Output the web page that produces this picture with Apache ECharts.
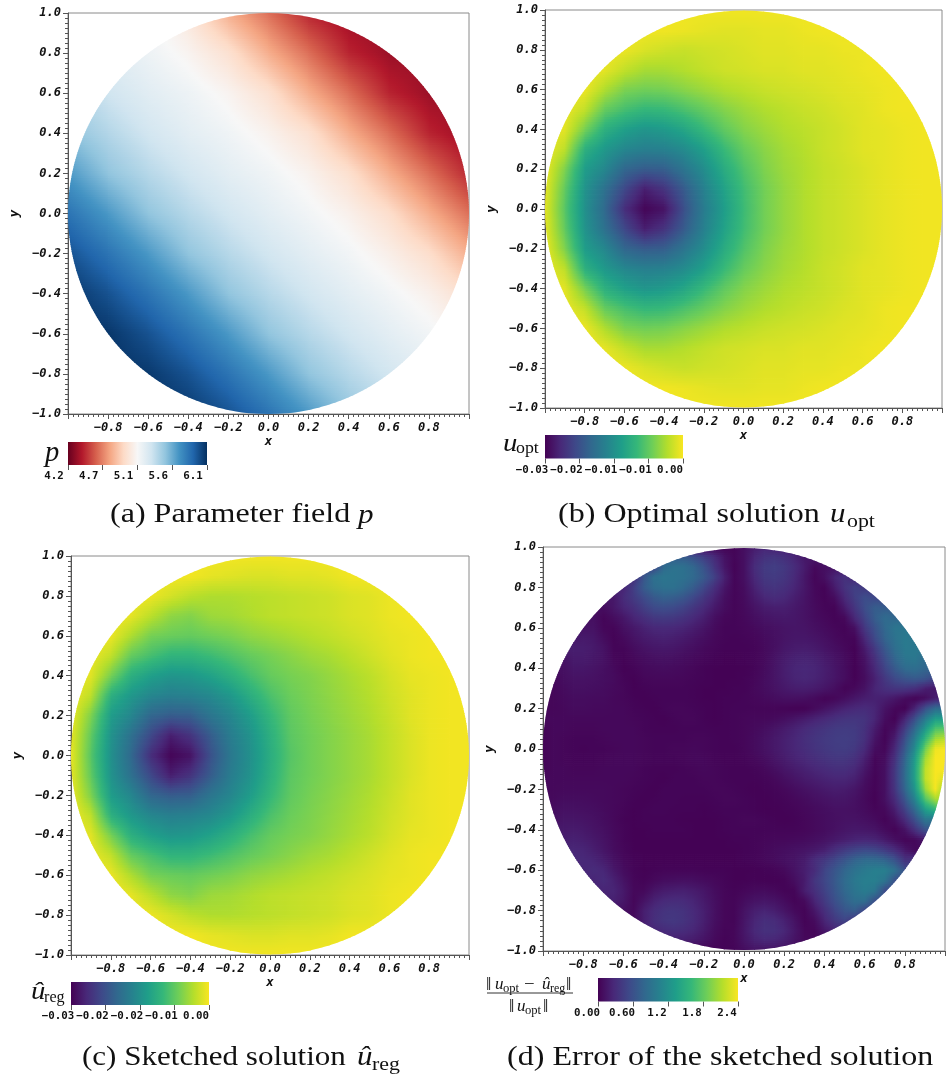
<!DOCTYPE html>
<html><head><meta charset="utf-8"><style>html,body{margin:0;padding:0;background:#fff}#c{width:948px;height:1078px}</style>
<script src="https://cdn.jsdelivr.net/npm/echarts@6/dist/echarts.min.js"></script></head><body><div id="c"></div><script>
// Node values. Rows run from y=1 down to y=-1, columns from x=-1 to x=1.
const pField = [
[5.3,5.25,5.18,5.03,4.8,4.62,4.42,4.33,4.32,4.32,4.32],
[5.36,5.27,5.2,5.12,5.0,4.8,4.62,4.42,4.33,4.32,4.32],
[5.44,5.34,5.26,5.2,5.12,5.0,4.8,4.62,4.42,4.33,4.32],
[5.54,5.43,5.33,5.25,5.19,5.11,5.0,4.8,4.62,4.42,4.33],
[5.7,5.53,5.42,5.33,5.25,5.19,5.11,4.99,4.8,4.62,4.43],
[5.85,5.7,5.53,5.42,5.33,5.25,5.18,5.1,4.98,4.8,4.62],
[5.98,5.85,5.7,5.53,5.42,5.33,5.25,5.18,5.09,4.98,4.8],
[6.08,5.98,5.85,5.7,5.53,5.42,5.33,5.25,5.18,5.1,4.98],
[6.1,6.08,5.98,5.85,5.7,5.53,5.42,5.33,5.25,5.18,5.1],
[6.1,6.1,6.07,5.98,5.85,5.7,5.53,5.42,5.33,5.25,5.18],
[6.1,6.1,6.1,6.07,5.98,5.85,5.7,5.53,5.42,5.33,5.25]];
// u_opt in units of 1e-3
const uOptField = [
[-.3,-.3,-.3,-.3,-.3,-.3,-.3,-.3,-.3,-.3,-.3,-.3,-.3,-.3,-.3,-.3,-.3,-.3,-.3,-.3,-.3],
[-.3,-.3,-.3,-.3,-.3,-.3,-.3,-.5,-.8,-1,-1,-.8,-.8,-.5,-.3,-.3,-.3,-.3,-.3,-.3,-.3],
[-.3,-.3,-.3,-.3,-.5,-1.3,-1.8,-2.1,-1.8,-1.6,-1.3,-1,-1,-.8,-.8,-.5,-.5,-.3,-.3,-.3,-.3],
[-.3,-.3,-.3,-.8,-2.3,-3.4,-3.4,-2.9,-2.3,-1.8,-1.6,-1.3,-1.3,-1,-1,-.8,-.5,-.3,-.3,-.3,-.3],
[-.3,-.3,-.5,-3.1,-5.2,-5.7,-5.5,-4.7,-3.9,-3.1,-2.6,-2.1,-1.8,-1.6,-1.3,-1,-.8,-.5,-.3,-.3,-.3],
[-.3,-.5,-2.3,-6.2,-7.8,-8.8,-8.6,-7.5,-6.2,-4.9,-3.9,-3.1,-2.6,-2.1,-1.8,-1.3,-1,-.5,-.3,-.3,-.3],
[-.3,-1,-5.5,-9.6,-11.4,-12.5,-12,-10.7,-8.6,-6.5,-4.9,-3.9,-3.1,-2.6,-2.1,-1.6,-1,-.8,-.5,-.3,-.3],
[-.3,-2.6,-9.6,-12.2,-14,-14.8,-14.6,-13.5,-11.4,-8.6,-6.2,-4.7,-3.6,-2.9,-2.1,-1.6,-1,-.8,-.5,-.3,-.3],
[-.5,-5.2,-11.7,-14,-17.4,-18.5,-18.2,-15.9,-13.3,-10.1,-7.3,-5.2,-3.9,-3.1,-2.3,-1.8,-1.3,-.8,-.5,-.3,-.3],
[-.8,-6.5,-12.7,-16.4,-20.3,-23.9,-22.1,-18.5,-14.6,-11.2,-8.1,-5.7,-4.2,-3.1,-2.3,-1.8,-1.3,-.8,-.5,-.3,-.3],
[-1,-7,-13,-17.2,-22.6,-25.7,-24.7,-19.5,-15.1,-11.7,-8.3,-5.7,-4.2,-3.1,-2.3,-1.8,-1.3,-.8,-.5,-.3,-.3],
[-.8,-6.5,-12.7,-16.4,-20.3,-23.9,-22.1,-18.5,-14.6,-11.2,-8.1,-5.7,-4.2,-3.1,-2.3,-1.8,-1.3,-.8,-.5,-.3,-.3],
[-.5,-5.2,-11.7,-14,-17.4,-18.5,-18.2,-15.9,-13.3,-10.1,-7.3,-5.2,-3.9,-3.1,-2.3,-1.8,-1.3,-.8,-.5,-.3,-.3],
[-.3,-2.6,-9.6,-12.2,-14,-14.8,-14.6,-13.5,-11.4,-8.6,-6.2,-4.7,-3.6,-2.9,-2.1,-1.6,-1,-.8,-.5,-.3,-.3],
[-.3,-1,-5.5,-9.6,-11.4,-12.5,-12,-10.7,-8.6,-6.5,-4.9,-3.9,-3.1,-2.6,-2.1,-1.6,-1,-.8,-.5,-.3,-.3],
[-.3,-.5,-2.3,-6.2,-7.8,-8.8,-8.6,-7.5,-6.2,-4.9,-3.9,-3.1,-2.6,-2.1,-1.8,-1.3,-1,-.5,-.3,-.3,-.3],
[-.3,-.3,-.5,-3.1,-5.2,-5.7,-5.5,-4.7,-3.9,-3.1,-2.6,-2.1,-1.8,-1.6,-1.3,-1,-.8,-.5,-.3,-.3,-.3],
[-.3,-.3,-.3,-.8,-2.3,-3.4,-3.4,-2.9,-2.3,-1.8,-1.6,-1.3,-1.3,-1,-1,-.8,-.5,-.3,-.3,-.3,-.3],
[-.3,-.3,-.3,-.3,-.5,-1.3,-1.8,-2.1,-1.8,-1.6,-1.3,-1,-1,-.8,-.8,-.5,-.5,-.3,-.3,-.3,-.3],
[-.3,-.3,-.3,-.3,-.3,-.3,-.3,-.5,-.8,-1,-1,-.8,-.8,-.5,-.3,-.3,-.3,-.3,-.3,-.3,-.3],
[-.3,-.3,-.3,-.3,-.3,-.3,-.3,-.3,-.3,-.3,-.3,-.3,-.3,-.3,-.3,-.3,-.3,-.3,-.3,-.3,-.3]];
// u_reg in units of 1e-3
const uRegField = [
[-.3,-.3,-.3,-.3,-.3,-.3,-.3,-.3,-.3,-.3,-.3,-.3,-.3,-.3,-.3,-.3,-.3,-.3,-.3,-.3,-.3],
[-.3,-.3,-.3,-.3,-.3,-.3,-.3,-.9,-1.2,-1.5,-1.5,-1.2,-1.2,-.9,-.3,-.3,-.3,-.3,-.3,-.3,-.3],
[-.3,-.3,-.3,-.3,-.6,-1.8,-3,-3.6,-3.6,-3.3,-3,-2.7,-2.4,-2.1,-1.5,-1.2,-.6,-.3,-.3,-.3,-.3],
[-.3,-.3,-.3,-.9,-3,-5.1,-5.7,-4.5,-4.2,-3.6,-3,-2.7,-2.4,-2.1,-1.5,-1.2,-.6,-.3,-.3,-.3,-.3],
[-.3,-.3,-.6,-3.6,-6.3,-6.9,-7.2,-6.6,-6,-5.1,-4.5,-3.9,-3.3,-2.7,-2.1,-1.5,-.9,-.6,-.3,-.3,-.3],
[-.3,-.6,-2.7,-7.2,-9,-10.5,-10.5,-9.6,-8.4,-7.2,-6.3,-5.4,-4.5,-3.9,-3,-2.1,-1.2,-.6,-.3,-.3,-.3],
[-.3,-1.2,-6.3,-11.1,-13.2,-14.4,-14.1,-12.9,-11.1,-9,-7.2,-6.3,-5.7,-4.8,-3.9,-3,-1.8,-.9,-.6,-.3,-.3],
[-.3,-3,-11.1,-14.1,-16.2,-17.1,-16.8,-15.9,-14.1,-11.4,-8.7,-6.9,-6,-5.1,-4.2,-3.3,-2.1,-1.2,-.6,-.3,-.3],
[-.6,-6,-13.5,-16.2,-20.1,-21.3,-21,-18.3,-16.2,-13.5,-10.2,-7.5,-6.3,-5.4,-4.5,-3.6,-2.4,-1.2,-.6,-.3,-.3],
[-.9,-7.5,-14.7,-18.9,-23.4,-27.6,-25.5,-21.3,-17.4,-14.7,-11.1,-7.8,-6.6,-5.7,-4.8,-3.9,-2.7,-1.5,-.6,-.3,-.3],
[-.9,-8.1,-15,-19.8,-26.1,-29.7,-28.5,-22.5,-18,-15,-11.4,-8.1,-6.6,-5.7,-4.8,-3.9,-2.7,-1.5,-.6,-.3,-.3],
[-.9,-7.5,-14.7,-18.9,-23.4,-27.6,-25.5,-21.3,-17.4,-14.7,-11.1,-7.8,-6.6,-5.7,-4.8,-3.9,-2.7,-1.5,-.6,-.3,-.3],
[-.6,-6,-13.5,-16.2,-20.1,-21.3,-21,-18.3,-16.2,-13.5,-10.2,-7.5,-6.3,-5.4,-4.5,-3.6,-2.4,-1.2,-.6,-.3,-.3],
[-.3,-3,-11.1,-14.1,-16.2,-17.1,-16.8,-15.9,-14.1,-11.4,-8.7,-6.9,-6,-5.1,-4.2,-3.3,-2.1,-1.2,-.6,-.3,-.3],
[-.3,-1.2,-6.3,-11.1,-13.2,-14.4,-14.1,-12.9,-11.1,-9,-7.2,-6.3,-5.7,-4.8,-3.9,-3,-1.8,-.9,-.6,-.3,-.3],
[-.3,-.6,-2.7,-7.2,-9,-10.5,-10.5,-9.6,-8.4,-7.2,-6.3,-5.4,-4.5,-3.9,-3,-2.1,-1.2,-.6,-.3,-.3,-.3],
[-.3,-.3,-.6,-3.6,-6.3,-6.9,-7.2,-6.6,-6,-5.1,-4.5,-3.9,-3.3,-2.7,-2.1,-1.5,-.9,-.6,-.3,-.3,-.3],
[-.3,-.3,-.3,-.9,-3,-5.1,-5.7,-4.5,-4.2,-3.6,-3,-2.7,-2.4,-2.1,-1.5,-1.2,-.6,-.3,-.3,-.3,-.3],
[-.3,-.3,-.3,-.3,-.6,-1.8,-3,-3.6,-3.6,-3.3,-3,-2.7,-2.4,-2.1,-1.5,-1.2,-.6,-.3,-.3,-.3,-.3],
[-.3,-.3,-.3,-.3,-.3,-.3,-.3,-.9,-1.2,-1.5,-1.5,-1.2,-1.2,-.9,-.3,-.3,-.3,-.3,-.3,-.3,-.3],
[-.3,-.3,-.3,-.3,-.3,-.3,-.3,-.3,-.3,-.3,-.3,-.3,-.3,-.3,-.3,-.3,-.3,-.3,-.3,-.3,-.3]];
// Error field, 41 rows at y=1,0.95,...,-1. Each row: [x of first value, values at 0.05 steps inside the disc].
const errRows = [
[-.1,.02,.02,.1,.18,.25,.2],
[-.3,.7,.6,.45,.3,.12,.03,.1,.25,.35,.38,.33,.25,.15],
[-.45,.5,.85,.92,.9,.8,.62,.38,.15,.02,.1,.3,.42,.45,.4,.3,.18,.05,.1,.12],
[-.55,.3,.65,.9,.95,.93,.9,.82,.68,.48,.22,.03,.1,.27,.4,.42,.38,.28,.15,.03,.1,.25,.35,.25],
[-.6,.25,.45,.7,.85,.9,.9,.82,.7,.52,.33,.15,.03,.08,.22,.34,.37,.33,.25,.15,.05,.02,.18,.35,.47,.4],
[-.65,.15,.3,.42,.55,.68,.75,.72,.65,.52,.38,.24,.1,.03,.07,.17,.26,.3,.27,.2,.13,.06,.02,.08,.28,.45,.58,.52],
[-.7,.08,.15,.25,.33,.45,.55,.58,.55,.48,.38,.28,.17,.08,.03,.06,.12,.18,.2,.2,.16,.12,.07,.03,.02,.18,.38,.58,.72,.7],
[-.75,.1,.03,.08,.15,.25,.32,.4,.42,.4,.35,.28,.2,.1,.04,.03,.05,.09,.13,.15,.16,.15,.12,.08,.05,.02,.05,.28,.5,.72,.85,.8],
[-.8,.12,.12,.04,.03,.1,.16,.22,.27,.28,.27,.24,.19,.13,.07,.03,.03,.04,.06,.09,.11,.13,.14,.13,.1,.07,.04,.02,.1,.4,.62,.82,.95,.95],
[-.85,.15,.17,.15,.08,.02,.06,.12,.17,.2,.22,.2,.17,.13,.09,.05,.03,.02,.03,.04,.07,.1,.13,.15,.15,.13,.1,.06,.03,.03,.28,.55,.78,.92,1,.95],
[-.85,.2,.2,.17,.12,.03,.03,.08,.12,.15,.16,.15,.12,.09,.06,.04,.02,.02,.02,.03,.06,.1,.15,.18,.19,.17,.13,.09,.05,.01,.18,.42,.68,.88,1,.98],
[-.9,.12,.18,.18,.15,.12,.04,.02,.05,.08,.1,.11,.1,.08,.06,.04,.02,.01,.01,.02,.03,.06,.12,.18,.22,.24,.22,.17,.12,.07,.01,.12,.33,.58,.8,.95,.98,.85],
[-.9,.1,.15,.15,.13,.1,.06,.01,.03,.06,.07,.08,.07,.06,.04,.02,.01,.01,.01,.01,.03,.07,.13,.2,.25,.27,.25,.2,.14,.08,.01,.1,.28,.5,.7,.85,.88,.8],
[-.95,.05,.09,.12,.12,.11,.09,.07,.03,.01,.04,.05,.05,.05,.04,.03,.02,.01,.01,.01,.02,.04,.08,.13,.19,.24,.26,.24,.19,.14,.08,.01,.08,.22,.4,.55,.65,.7,.65,.5],
[-.95,.04,.07,.1,.1,.09,.08,.06,.04,.01,.02,.03,.03,.03,.03,.02,.01,.01,.01,.02,.02,.05,.08,.12,.16,.19,.2,.18,.14,.09,.02,.05,.12,.25,.33,.38,.38,.33,.2,.15],
[-.95,.04,.06,.08,.08,.07,.07,.05,.04,.02,.01,.02,.03,.03,.03,.02,.01,.01,.02,.02,.03,.04,.06,.08,.1,.1,.09,.06,.02,.04,.09,.15,.2,.22,.2,.14,.07,.02,.08,.2],
[-.95,.04,.05,.07,.07,.06,.06,.05,.05,.03,.02,.01,.03,.04,.04,.03,.02,.01,.02,.03,.03,.03,.03,.03,.02,.01,.01,.06,.12,.18,.24,.28,.3,.25,.12,.04,.01,.25,.6,.85],
[-.95,.05,.05,.05,.05,.05,.05,.05,.05,.04,.03,.02,.01,.03,.04,.04,.02,.01,.02,.03,.04,.05,.05,.06,.09,.13,.18,.23,.28,.33,.37,.38,.36,.25,.08,.01,.25,.6,1,1.35],
[-1,.02,.05,.05,.04,.04,.04,.05,.05,.05,.05,.03,.02,.02,.02,.03,.03,.03,.02,.02,.03,.04,.06,.09,.13,.18,.23,.29,.34,.38,.42,.43,.42,.34,.18,.03,.1,.45,.85,1.3,1.75,1.8],
[-1,.02,.05,.04,.03,.03,.03,.04,.05,.05,.05,.04,.03,.03,.03,.03,.04,.04,.03,.02,.03,.04,.07,.11,.16,.21,.26,.32,.37,.41,.44,.45,.43,.33,.13,.02,.2,.6,1.05,1.6,2.1,2.2],
[-1,.02,.05,.04,.03,.02,.03,.03,.04,.05,.05,.04,.03,.03,.04,.04,.05,.04,.03,.02,.02,.04,.07,.11,.16,.21,.26,.31,.36,.4,.43,.44,.4,.28,.08,.04,.28,.7,1.2,1.9,2.4,2.44],
[-1,.02,.05,.04,.03,.03,.03,.04,.05,.05,.05,.04,.03,.03,.03,.04,.05,.05,.03,.02,.02,.03,.05,.08,.13,.18,.23,.27,.31,.35,.38,.38,.33,.2,.03,.08,.35,.8,1.35,2.1,2.44,2.44],
[-1,.02,.05,.05,.04,.04,.04,.05,.05,.05,.05,.03,.02,.02,.02,.03,.04,.05,.04,.03,.02,.02,.03,.05,.09,.14,.18,.22,.26,.29,.32,.32,.27,.15,.03,.1,.4,.85,1.4,2.2,2.44,2.44],
[-.95,.05,.05,.05,.05,.05,.05,.05,.05,.04,.03,.02,.01,.03,.03,.03,.04,.04,.03,.02,.02,.02,.03,.05,.09,.13,.17,.2,.23,.25,.25,.21,.1,.02,.1,.4,.85,1.4,2.2,2.44,2.3],
[-.95,.05,.06,.06,.06,.06,.06,.05,.04,.03,.02,.01,.03,.03,.03,.03,.03,.04,.04,.03,.02,.01,.02,.03,.05,.08,.11,.14,.17,.19,.18,.14,.07,.02,.1,.38,.8,1.3,2.05,2.44,2],
[-.95,.06,.08,.08,.08,.07,.06,.05,.04,.02,.01,.02,.03,.03,.02,.02,.02,.03,.04,.04,.03,.02,.01,.02,.03,.05,.07,.1,.12,.14,.14,.11,.06,.01,.1,.3,.65,1.1,1.75,2.1],
[-.95,.08,.11,.11,.1,.09,.07,.05,.03,.01,.02,.03,.03,.02,.02,.02,.01,.02,.03,.03,.03,.02,.01,.01,.02,.03,.05,.07,.09,.11,.11,.1,.07,.03,.05,.2,.48,.85,1.35,1.6],
[-.95,.1,.14,.14,.13,.11,.08,.05,.02,.01,.02,.02,.02,.02,.01,.01,.01,.01,.02,.03,.04,.04,.03,.02,.01,.02,.04,.06,.08,.1,.12,.12,.1,.07,.02,.1,.3,.6,.95],
[-.9,.17,.18,.16,.13,.1,.06,.03,.01,.01,.02,.02,.02,.02,.01,.01,.01,.02,.03,.03,.03,.03,.03,.03,.03,.04,.06,.08,.11,.14,.16,.15,.13,.07,.02,.12,.35,.62],
[-.9,.2,.22,.2,.16,.12,.07,.03,.01,.01,.01,.01,.01,.01,.01,.01,.01,.01,.02,.02,.03,.04,.05,.05,.06,.07,.09,.12,.16,.2,.24,.26,.24,.17,.09,.03,.05,.15],
[-.85,.26,.25,.2,.14,.08,.04,.01,.01,.01,.01,.01,.01,.01,.01,.01,.01,.01,.02,.03,.05,.07,.09,.11,.13,.16,.21,.32,.42,.5,.55,.52,.42,.3,.15,.05],
[-.8,.28,.25,.19,.11,.05,.02,.01,.01,.01,.01,.01,.01,.01,.01,.01,.01,.02,.03,.05,.07,.1,.13,.18,.3,.4,.52,.65,.78,.85,.85,.78,.62,.35],
[-.8,.26,.3,.26,.16,.08,.03,.01,.02,.03,.03,.03,.03,.02,.02,.02,.01,.01,.01,.02,.03,.06,.12,.2,.3,.5,.65,.8,.92,1,1.05,1.05,.9,.6],
[-.75,.25,.3,.22,.12,.04,.02,.05,.08,.09,.1,.09,.07,.05,.03,.01,.01,.02,.01,.01,.02,.09,.18,.38,.52,.68,.85,.98,1.05,1.05,.95,.6],
[-.7,.25,.25,.16,.05,.05,.13,.18,.2,.21,.18,.14,.08,.04,.02,.04,.06,.07,.05,.02,.03,.2,.33,.48,.65,.82,.95,1.02,.95,.55],
[-.65,.22,.15,.04,.12,.22,.28,.3,.29,.24,.17,.1,.04,.03,.08,.12,.14,.12,.07,.02,.06,.25,.42,.6,.75,.88,.88,.6],
[-.6,.1,.05,.2,.3,.36,.38,.35,.28,.2,.11,.04,.03,.12,.2,.24,.2,.13,.06,.02,.15,.33,.5,.65,.72,.5],
[-.55,.06,.2,.32,.38,.4,.36,.29,.2,.1,.04,.03,.14,.25,.32,.3,.22,.12,.02,.07,.25,.4,.5,.35],
[-.45,.25,.3,.32,.3,.25,.17,.08,.03,.04,.15,.27,.34,.33,.26,.15,.04,.03,.15,.25],
[-.3,.2,.17,.12,.06,.02,.04,.13,.22,.26,.25,.2,.12,.05],
[-.1,.02,.03,.08,.12,.12]];
const rdbuColors = ['#67001f','#b2182b','#d6604d','#f4a582','#fddbc7','#f7f7f7','#d1e5f0','#92c5de','#4393c3','#2166ac','#053061'];
const viridisColors = ['#440154','#482878','#3e4989','#31688e','#26828e','#1f9e89','#35b779','#6ece58','#b5de2b','#f8e621'];
const pTicks = [4.2,4.675,5.15,5.625,6.1], pTickLabels = ['4.2','4.7','5.1','5.6','6.1'];
const uOptTicks = [-26,-19.5,-13,-6.5,0], uOptTickLabels = ['\u22120.03','\u22120.02','\u22120.01','\u22120.01','0.00'];
const uRegTicks = [-30,-22.5,-15,-7.5,0], uRegTickLabels = ['\u22120.03','\u22120.02','\u22120.02','\u22120.01','0.00'];
const errTicks = [0,.61,1.22,1.83,2.44], errTickLabels = ['0.00','0.60','1.2','1.8','2.4'];

const errField = errRows.map(r => {
  const first = Math.round((r[0] + 1) / .05), vals = r.slice(1), row = [];
  for (let i = 0; i < 41; i++) row.push(vals[Math.max(0, Math.min(vals.length - 1, i - first))]);
  return row;
});
const hex = c => [1,3,5].map(i => parseInt(c.substr(i,2),16));
function colorFn(stops, min, max) {
  const rgb = stops.map(hex);
  return v => {
    let t = Math.max(0, Math.min(1, (v - min) / (max - min))) * (rgb.length - 1);
    const i = Math.min(rgb.length - 2, Math.floor(t)); t -= i;
    const c = [0,1,2].map(k => Math.round(rgb[i][k] + (rgb[i+1][k] - rgb[i][k]) * t));
    return 'rgb(' + c.join(',') + ')';
  };
}
function cells(m) {
  const n = m.length - 1, out = [], d = 2 / n;
  for (let r = 0; r < n; r++) for (let c = 0; c < n; c++)
    out.push([-1 + c*d, 1 - r*d, -1 + (c+1)*d, 1 - (r+1)*d, m[r][c], m[r][c+1], m[r+1][c], m[r+1][c+1]]);
  return out;
}
// Paints one mesh cell, shading between its four node values (like the original's Gouraud shading).
function shader(color) {
  return (params, api) => {
    const v = i => api.value(i), x0=v(0), y0=v(1), x1=v(2), y1=v(3), a=v(4), b=v(5), c=v(6), d=v(7);
    const nx = Math.max(x0, Math.min(0, x1)), ny = Math.max(y1, Math.min(0, y0));
    if (nx*nx + ny*ny >= 1) return null;
    const far = Math.max(x0*x0, x1*x1) + Math.max(y0*y0, y1*y1);
    const p0 = api.coord([x0,y0]), p1 = api.coord([x1,y1]), o = api.coord([0,0]), e = api.coord([1,0]);
    const w = p1[0]-p0[0], h = p1[1]-p0[1], rows = Math.ceil(h/2.5), cols = Math.ceil(w/5), children = [];
    for (let r = 0; r < rows; r++) {
      const tr = (r + .5)/rows, L = a + (c-a)*tr, R = b + (d-b)*tr, colorStops = [];
      for (let k = 0; k <= cols; k++) colorStops.push({offset:k/cols, color:color(L + (R-L)*k/cols)});
      children.push({type:'rect', shape:{x:p0[0], y:p0[1]+r*h/rows, width:w+.8, height:h/rows+.8},
        style:{fill:{type:'linear',x:0,y:0,x2:1,y2:0,colorStops}}, silent:true});
    }
    const g = {type:'group', children};
    if (far >= .9) g.clipPath = {type:'circle', shape:{cx:o[0], cy:o[1], r:e[0]-o[0]}};
    return g;
  };
}
function barItem(stops) {
  return (params, api) => {
    const p0 = api.coord([api.value(0),1]), p1 = api.coord([api.value(1),0]);
    return {type:'rect', shape:{x:p0[0],y:p0[1],width:p1[0]-p0[0],height:p1[1]-p0[1]}, silent:true,
      style:{fill:{type:'linear',x:0,y:0,x2:1,y2:0,colorStops:stops.map((color,i)=>({offset:i/(stops.length-1),color}))}}};
  };
}
const panels = [
 {rect:[68,13,401,401], field:pField, stops:rdbuColors, min:4.2, max:6.1, bar:[68,442,139,23], ticks:pTicks, labels:pTickLabels, shift:14},
 {rect:[545,10,397,398], field:uOptField, stops:viridisColors, min:-26, max:0, bar:[545,435,138,23.5], ticks:uOptTicks, labels:uOptTickLabels, shift:13},
 {rect:[71,556,398,399], field:uRegField, stops:viridisColors, min:-30, max:0, bar:[71,982,138,23], ticks:uRegTicks, labels:uRegTickLabels, shift:13},
 {rect:[543,547,405,404], field:errField, stops:viridisColors, min:0, max:2.44, bar:[598,978,140,23.5], ticks:errTicks, labels:errTickLabels, shift:11}
];
const MONO = '"DejaVu Sans Mono"', AX='#555', INK='#111';
const grid=[], xAxis=[], yAxis=[], series=[];
const fmt = v => (v<0?'\u2212':'') + Math.abs(v).toFixed(1);
panels.forEach((p,i) => {
  grid.push({left:p.rect[0],top:p.rect[1],width:p.rect[2],height:p.rect[3],show:true,borderColor:'#8a8a8a',borderWidth:1,backgroundColor:'#fff'});
  const base = {type:'value',min:-1,max:1,interval:.2,gridIndex:i,splitLine:{show:false},
    axisLine:{show:true,onZero:false,lineStyle:{color:AX,width:1}},
    axisTick:{show:true,length:5,lineStyle:{color:AX}},
    minorTick:{show:true,splitNumber:8,length:3,lineStyle:{color:AX}}};
  const nameStyle = {fontFamily:MONO,fontWeight:'bold',fontStyle:'italic',fontSize:12.5,color:INK};
  const lab = {fontFamily:MONO,fontWeight:'bold',fontStyle:'italic',fontSize:12,color:INK};
  xAxis.push({...base,name:'x',nameLocation:'middle',nameGap:21,nameTextStyle:nameStyle,
    axisLabel:{...lab,margin:8,formatter:v=>Math.abs(v)>.99?'':fmt(v)}});
  yAxis.push({...base,name:'y',nameLocation:'middle',nameGap:47,nameRotate:90,nameTextStyle:nameStyle,
    axisLabel:{...lab,margin:7,formatter:fmt}});
  series.push({type:'custom',coordinateSystem:'cartesian2d',xAxisIndex:i,yAxisIndex:i,data:cells(p.field),
    renderItem:shader(colorFn(p.stops,p.min,p.max)),encode:{x:[0,2],y:[1,3]},clip:true,animation:false,silent:true,progressive:0,z:2});
});
panels.forEach((p,i) => {
  const g = i+4;
  grid.push({left:p.bar[0],top:p.bar[1],width:p.bar[2],height:p.bar[3]});
  xAxis.push({type:'value',gridIndex:g,min:p.min,max:p.max,splitLine:{show:false},axisLine:{show:false},
    axisTick:{show:true,length:5,inside:false,customValues:p.ticks,lineStyle:{color:AX}},
    axisLabel:{customValues:p.ticks,margin:6,showMinLabel:true,showMaxLabel:true,hideOverlap:false,fontFamily:MONO,fontWeight:'bold',fontSize:10.8,color:INK,
      padding:[0,2*p.shift,0,0],formatter:v=>p.labels[p.ticks.indexOf(v)]}});
  yAxis.push({type:'value',gridIndex:g,min:0,max:1,show:false});
  series.push({type:'custom',coordinateSystem:'cartesian2d',xAxisIndex:g,yAxisIndex:g,data:[[p.min,p.max]],
    renderItem:barItem(p.stops),encode:{x:[0,1]},clip:false,animation:false,silent:true});
});
const SERIF='"Liberation Serif"';
function tx(x,y,text,size,italic,sx){return {type:'text',x,y,scaleX:sx||1,silent:true,z:10,
  style:{text,fill:'#111',font:(italic?'italic ':'')+size+'px '+SERIF,textAlign:'left',textVerticalAlign:'middle'}};}
const graphic = [
 tx(110,515,'(a) Parameter field',27,false,1.187), tx(358,516,'p',27,true,1.15),
 tx(558,515,'(b) Optimal solution',27,false,1.187), tx(830,515,'u',27,true,1.15), tx(847,522,'opt',19,false,1.15),
 tx(82,1058,'(c) Sketched solution',27,false,1.15), tx(357,1058,'\u00fb',27,true,1.15), tx(372,1065,'reg',19,false,1.15),
 tx(507,1058,'(d) Error of the sketched solution',27,false,1.187),
 tx(45,453,'p',30,true,.95), tx(503,444,'u',25,true,1.15), tx(516,449,'opt',17,false,1.05),
 tx(31,992,'\u00fb',25,true,1.15), tx(44,998,'reg',17,false,.95),
 tx(486,985,'\u2016',19,false,1), tx(495,985,'u',17,true,1), tx(503,989,'opt',12,false,1.05),
 tx(524,985,'\u2212',17,false,1.1), tx(542,985,'\u00fb',17,true,1), tx(550,989,'reg',12,false,1), tx(566,985,'\u2016',19,false,1),
 {type:'line',shape:{x1:487,y1:993,x2:573,y2:993},style:{stroke:'#333',lineWidth:1},silent:true,z:10},
 tx(509,1007,'\u2016',19,false,1), tx(517,1007,'u',17,true,1), tx(525,1011,'opt',12,false,1.05), tx(543,1007,'\u2016',19,false,1)
];
const chart = echarts.init(document.getElementById('c'),null,{renderer:'canvas'});
chart.setOption({animation:false,backgroundColor:'#fff',grid,xAxis,yAxis,series,graphic,tooltip:{show:false}});
</script></body></html>
